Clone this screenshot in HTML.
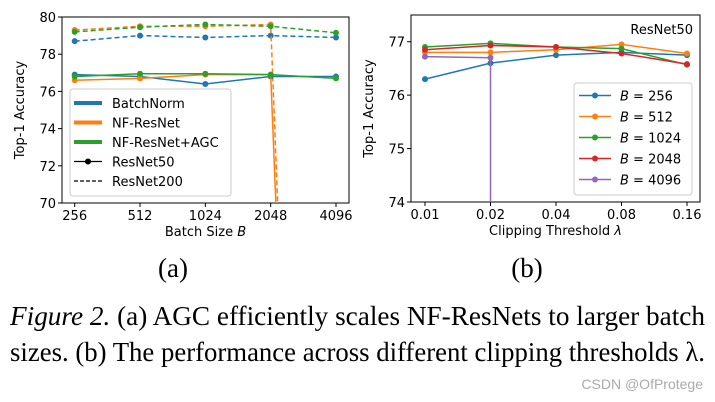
<!DOCTYPE html>
<html style="overflow:hidden"><head><meta charset="utf-8"><style>
html,body{margin:0;padding:0;background:#fff;width:715px;height:402px;overflow:hidden}
svg{display:block}
.t{font-family:"DejaVu Sans","Liberation Sans",sans-serif;font-size:13px;fill:#000}
.c{font-family:"Liberation Serif",serif;font-size:27px;fill:#000}
</style></head><body>
<svg id="s" width="715" height="402">
<g id="chartA"></g>
<g id="chartB"></g>
<text class="c" x="173" y="277" text-anchor="middle">(a)</text>
<text class="c" x="527" y="277" text-anchor="middle">(b)</text>
<text class="c" x="10" y="325" textLength="695" lengthAdjust="spacingAndGlyphs"><tspan font-style="italic">Figure 2.</tspan> (a) AGC efficiently scales NF-ResNets to larger batch</text>
<text class="c" x="10" y="361" textLength="695" lengthAdjust="spacingAndGlyphs">sizes. (b) The performance across different clipping thresholds λ.</text>
<text x="703" y="389" text-anchor="end" font-family="Liberation Sans,sans-serif" font-size="14" fill="#aaa">CSDN @OfProtege</text>
</svg>
<script>
// Chart A data
const batchSizes=["256","512","1024","2048","4096"];
const bnR50=[76.9,76.8,76.4,76.8,76.8];
const nfR50=[76.6,76.7,76.9,76.9,-10];
const agcR50=[76.8,76.95,76.95,76.9,76.7];
const bnR200=[78.7,79.0,78.9,79.0,78.9];
const nfR200=[79.3,79.5,79.5,79.6,-10];
const agcR200=[79.2,79.45,79.6,79.5,79.15];
const yTicksA=[70,72,74,76,78,80];
// Chart B data
const thresholds=["0.01","0.02","0.04","0.08","0.16"];
const b256=[76.3,76.6,76.75,76.8,76.75];
const b512=[76.8,76.8,76.85,76.95,76.78];
const b1024=[76.9,76.97,76.9,76.87,76.57];
const b2048=[76.85,76.93,76.9,76.78,76.58];
const b4096=[76.72,76.7,-5000,-5000,-5000];
const yTicksB=[74,75,76,77];

const NS="http://www.w3.org/2000/svg";
function mk(p,tag,at){const e=document.createElementNS(NS,tag);for(const k in at)e.setAttribute(k,at[k]);p.appendChild(e);return e;}
const C={blue:"#1f77b4",orange:"#ff7f0e",green:"#2ca02c",red:"#d62728",purple:"#9467bd"};

function axes(g,x0,x1,y0,y1,xs,ysc,cats,yt,xl,xlItalic){
  mk(g,"rect",{x:x0,y:y0,width:x1-x0,height:y1-y0,fill:"none",stroke:"#000","stroke-width":1});
  cats.forEach((c,i)=>{const x=xs(i);
    mk(g,"line",{x1:x,x2:x,y1:y1,y2:y1+4,stroke:"#000"});
    const t=mk(g,"text",{x:x,y:y1+17,"text-anchor":"middle",class:"t"});t.textContent=c;
    
    });
  yt.forEach(v=>{const y=ysc(v);
    mk(g,"line",{x1:x0-4,x2:x0,y1:y,y2:y,stroke:"#000"});
    const t=mk(g,"text",{x:x0-6,y:y+5,"text-anchor":"end",class:"t"});t.textContent=v;
    
    });
  const yl=mk(g,"text",{x:0,y:0,"text-anchor":"middle",class:"t",transform:`translate(${x0-38},${(y0+y1)/2}) rotate(-90)`});yl.textContent="Top-1 Accuracy";
  
  
  const xt=mk(g,"text",{x:(x0+x1)/2,y:y1+33,"text-anchor":"middle",class:"t"});
  
  
  xt.appendChild(document.createTextNode(xl+" "));
  const it=mk(xt,"tspan",{"font-style":"italic"});it.textContent=xlItalic;
}
function series(g,vals,xs,ys,col,dash,yBottom,name){
  const gg=mk(g,"g",{});
  
  
  const pts=[];
  for(let i=0;i<vals.length;i++){
    const x=xs(i),y=ys(vals[i]);
    if(y<=yBottom){pts.push([x,y]);continue;}
    if(i>0){const px=xs(i-1),py=ys(vals[i-1]);
      if(py<=yBottom){const f=(yBottom-py)/(y-py);pts.push([px+f*(x-px),yBottom]);}}
    break;
  }
  const pl=mk(gg,"polyline",{points:pts.map(p=>p.join(",")).join(" "),fill:"none",stroke:col,"stroke-width":1.5});
  if(dash)pl.setAttribute("stroke-dasharray","5,3");
  vals.forEach((v,i)=>{const y=ys(v);if(y<=yBottom)mk(gg,"circle",{cx:xs(i),cy:y,r:3,fill:col});});
}
// Chart A
(function(){
  const g=document.getElementById("chartA");
  const x0=62,x1=349,y0=17,y1=203;
  const xs=i=>74.7+i*(336-74.7)/4;
  const ys=v=>y1-(v-70)*(y1-y0)/10;
  axes(g,x0,x1,y0,y1,xs,ys,batchSizes,yTicksA,"Batch Size","B");
  series(g,bnR200,xs,ys,C.blue,true,y1,"batchnorm-resnet200");
  series(g,nfR200,xs,ys,C.orange,true,y1,"nfresnet-resnet200");
  series(g,agcR200,xs,ys,C.green,true,y1,"agc-resnet200");
  series(g,bnR50,xs,ys,C.blue,false,y1,"batchnorm-resnet50");
  series(g,nfR50,xs,ys,C.orange,false,y1,"nfresnet-resnet50");
  series(g,agcR50,xs,ys,C.green,false,y1,"agc-resnet50");
  const lg=mk(g,"g",{});
  
  
  mk(lg,"rect",{x:70,y:89,width:161,height:107,rx:3,fill:"#fff","fill-opacity":0.85,stroke:"#ccc"});
  const items=[["BatchNorm",C.blue,"w"],["NF-ResNet",C.orange,"w"],["NF-ResNet+AGC",C.green,"w"],["ResNet50","#000","m"],["ResNet200","#000","d"]];
  items.forEach((it,i)=>{const y=103+i*19.5;
    const l=mk(lg,"line",{x1:74,x2:102,y1:y,y2:y,stroke:it[1],"stroke-width":it[2]=="w"?4:1.2});
    if(it[2]=="d")l.setAttribute("stroke-dasharray","4,2");
    if(it[2]=="m")mk(lg,"circle",{cx:88,cy:y,r:3,fill:"#000"});
    const t=mk(lg,"text",{x:112,y:y+5,class:"t"});t.textContent=it[0];
    
    });
})();
// Chart B
(function(){
  const g=document.getElementById("chartB");
  const x0=411,x1=700,y0=15,y1=202;
  const xs=i=>425+i*(687-425)/4;
  const ys=v=>y1-(v-74)*(y1-y0)/3.5;
  axes(g,x0,x1,y0,y1,xs,ys,thresholds,yTicksB,"Clipping Threshold","λ");
  series(g,b256,xs,ys,C.blue,false,y1,"b256-line");
  series(g,b512,xs,ys,C.orange,false,y1,"b512-line");
  series(g,b1024,xs,ys,C.green,false,y1,"b1024-line");
  series(g,b2048,xs,ys,C.red,false,y1,"b2048-line");
  series(g,b4096,xs,ys,C.purple,false,y1,"b4096-line");
  const tt=mk(g,"text",{x:693,y:34,"text-anchor":"end",class:"t"});tt.textContent="ResNet50";
  
  
  const lg=mk(g,"g",{});
  
  
  mk(lg,"rect",{x:574,y:83,width:118,height:112,rx:3,fill:"#fff","fill-opacity":0.85,stroke:"#ccc"});
  const labs=["256","512","1024","2048","4096"],cols=[C.blue,C.orange,C.green,C.red,C.purple];
  labs.forEach((b,i)=>{const y=95.5+i*21;
    mk(lg,"line",{x1:579,x2:611,y1:y,y2:y,stroke:cols[i],"stroke-width":1.5});
    mk(lg,"circle",{cx:595,cy:y,r:3,fill:cols[i]});
    const t=mk(lg,"text",{x:620,y:y+5,class:"t"});
    
    
    const s=mk(t,"tspan",{"font-style":"italic"});s.textContent="B";
    t.appendChild(document.createTextNode(" = "+b));});
})();
</script>
</body></html>
